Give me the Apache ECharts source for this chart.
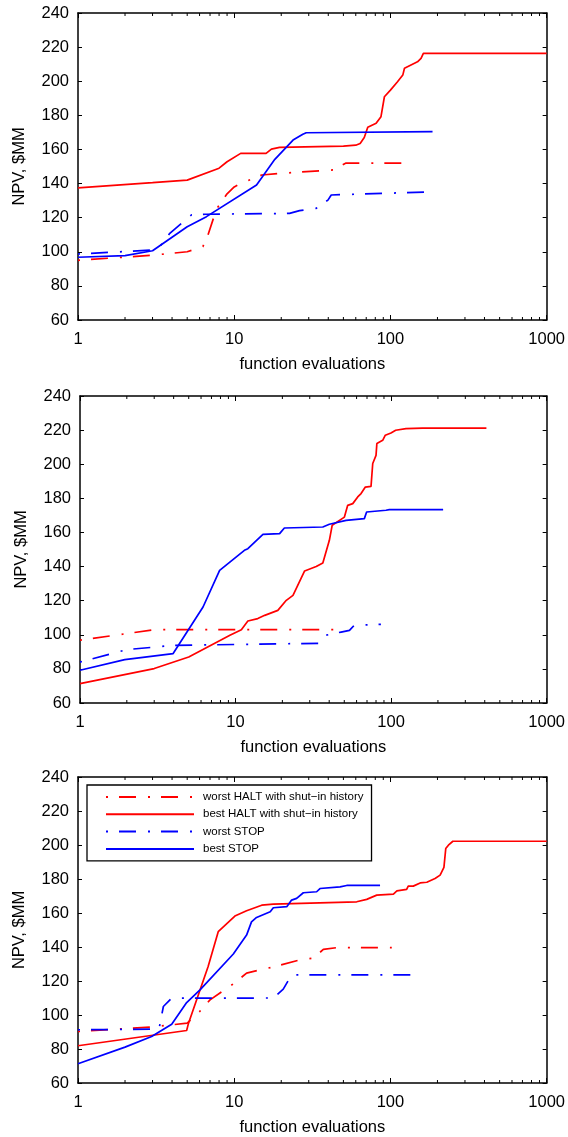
<!DOCTYPE html>
<html>
<head>
<meta charset="utf-8">
<script src="https://cdn.jsdelivr.net/npm/echarts@6/dist/echarts.min.js"></script>
<style>
    html, body { margin: 0; padding: 0; background: #fff; }
    #main { width: 568px; height: 1137px; }
</style>
</head>
<body>
<div id="main"></div>
<script>
// panel 1
var p1WorstHaltX = [1, 3, 5, 6.3, 6.8, 7.7, 9, 10, 11, 15, 20, 24, 43, 52, 120];
var p1WorstHaltY = [95, 98, 100, 103, 110, 125, 134, 138, 140, 145, 146, 146.5, 148, 152, 152];
var p1BestHaltX = [1, 3, 5, 8, 9, 11, 16, 17.3, 19.5, 50, 60, 64, 68, 71.6, 81, 87, 91.5, 100, 111, 120, 123, 149, 157, 162.5, 1000];
var p1BestHaltY = [137.5, 140.5, 142, 149, 152.8, 157.7, 157.7, 160.2, 161.2, 162, 162.5, 163.5, 167, 173, 175.3, 179.2, 190.9, 194.8, 199.7, 203.6, 207.6, 211.4, 213.4, 216.3, 216.3];
var p1WorstStopX = [1, 3, 3.4, 3.87, 5.33, 6.6, 22.6, 26.2, 33.5, 39.8, 41.8, 165];
var p1WorstStopY = [98.7, 101, 104, 110.8, 121.6, 122, 122.5, 124.1, 125.5, 130.3, 133.3, 135];
var p1BestStopX = [1, 2, 3, 5, 6.64, 13.9, 18.2, 23.8, 27.5, 28.9, 186];
var p1BestStopY = [96.8, 97.7, 100.6, 114.7, 120.6, 139.2, 154.2, 165.5, 168.9, 169.8, 170.4];

// panel 2
var p2WorstHaltX = [1, 3, 43];
var p2WorstHaltY = [96.8, 103, 103];
var p2BestHaltX = [1, 3, 5, 8, 9.2, 10.9, 12, 13.9, 15.4, 18.7, 21.2, 23.4, 27.8, 33, 36.4, 40.1, 41.8, 50.1, 52.6, 56.7, 61, 64.1, 68.3, 74.3, 76.2, 80, 81, 88.3, 91.8, 99.8, 107, 124.6, 159, 410];
var p2BestHaltY = [71.4, 80.2, 87, 96.8, 99.7, 103, 108.1, 109.5, 111.4, 114.3, 120.2, 123.1, 137.4, 140, 142.1, 155.4, 164.2, 169, 175.9, 176.9, 180.8, 182.8, 186.6, 187, 200.4, 205.2, 212.1, 214, 217, 218.3, 219.9, 220.9, 221.2, 221.2];
var p2WorstStopX = [1, 2, 4, 34, 37, 47.7, 54, 58, 86];
var p2WorstStopY = [84, 91.3, 93.8, 95, 99.5, 101.6, 102.6, 105.6, 106.1];
var p2BestStopX = [1, 1.94, 3.97, 6.18, 7.9, 11.4, 12, 15, 19.2, 20.6, 36.4, 40.1, 51.4, 67.3, 69.6, 92.7, 97.4, 216];
var p2BestStopY = [79.2, 85.4, 89, 116.3, 137.8, 149.5, 150.5, 158.9, 159.3, 162.6, 163.2, 164.8, 167.1, 168.1, 172, 173, 173.4, 173.4];

// panel 3
var p3WorstHaltX = [1, 3, 5, 6, 7, 10, 12, 14, 18, 26.3, 32.1, 37.2, 45.3, 102];
var p3WorstHaltY = [90.3, 93, 95.2, 102, 108.9, 118.7, 124.6, 126.1, 128.4, 132.4, 133.4, 138.6, 139.6, 139.6];
var p3BestHaltX = [1, 4.96, 5.1, 6.8, 7.9, 10.1, 12, 15, 17.8, 60.8, 70.5, 81.7, 104.5, 110, 127, 130, 140, 155, 171, 193, 208, 220, 226, 235, 251, 1000];
var p3BestHaltY = [81.9, 90.9, 95.2, 128.4, 149, 158.2, 161.3, 164.6, 165.2, 166.6, 168, 170.5, 171.1, 173, 173.9, 175.8, 175.8, 177.7, 178.1, 180.3, 182.3, 186.8, 197.9, 199.9, 202.2, 202.2];
var p3WorstStopX = [1, 3.3, 3.52, 3.98, 17.8, 20.6, 23.3, 140];
var p3WorstStopY = [91.3, 91.7, 105, 109.9, 110, 115.2, 123.6, 123.6];
var p3BestStopX = [1, 2, 2.96, 3.98, 4.96, 6.04, 9.87, 12, 12.9, 13.9, 17, 17.8, 21.7, 23.3, 25.1, 27.7, 33.7, 35.4, 47.6, 52.5, 85.8];
var p3BestStopY = [71.3, 81.1, 87.4, 94.6, 107.3, 114.8, 135.9, 147, 154.8, 157.4, 160.7, 163.1, 163.7, 167.6, 168.6, 171.9, 172.5, 174.4, 175.4, 176.2, 176.2];

var seriesNames = ['worst HALT with shut\u2212in history', 'best HALT with shut\u2212in history', 'worst STOP', 'best STOP'];
var minorTicks = [2, 3, 4, 5, 6, 7, 8, 9, 20, 30, 40, 50, 60, 70, 80, 90, 200, 300, 400, 500, 600, 700, 800, 900];

var font = 'Liberation Sans, Arial, sans-serif';
var dashDot = [2, 11, 17, 12];

var panels = [
    [[p1WorstHaltX, p1WorstHaltY], [p1BestHaltX, p1BestHaltY], [p1WorstStopX, p1WorstStopY], [p1BestStopX, p1BestStopY]],
    [[p2WorstHaltX, p2WorstHaltY], [p2BestHaltX, p2BestHaltY], [p2WorstStopX, p2WorstStopY], [p2BestStopX, p2BestStopY]],
    [[p3WorstHaltX, p3WorstHaltY], [p3BestHaltX, p3BestHaltY], [p3WorstStopX, p3WorstStopY], [p3BestStopX, p3BestStopY]]
];
var grids = [
    { left: 78, top: 13, width: 470, height: 307 },
    { left: 80, top: 396, width: 468, height: 307 },
    { left: 78, top: 777, width: 469, height: 306 }
];
var colors = ['#ff0000', '#ff0000', '#0000ff', '#0000ff'];
var types = [dashDot, 'solid', dashDot, 'solid'];

function zip(xs, ys) {
    var out = [];
    for (var i = 0; i < xs.length; i++) out.push([xs[i], ys[i]]);
    return out;
}

var xAxes = [], yAxes = [], series = [];
var axisLine = { show: true, onZero: false, lineStyle: { color: '#000', width: 1.5 } };

grids.forEach(function(g, gi) {
    xAxes.push({
        type: 'log', logBase: 10, min: 1, max: 1000, gridIndex: gi, position: 'bottom',
        name: 'function evaluations', nameLocation: 'middle', nameGap: 36,
        nameTextStyle: { color: '#000', fontSize: 16.5, fontFamily: font },
        axisLine: axisLine,
        axisTick: { inside: true, length: 5, lineStyle: { color: '#000', width: 1 } },
        axisLabel: {
            color: '#000', fontSize: 16.5, fontFamily: font, margin: 11,
            formatter: function(v) { return String(Math.round(v)); }
        },
        splitLine: { show: false }
    });
    xAxes.push({
        type: 'log', logBase: 10, min: 1, max: 1000, gridIndex: gi, position: 'top',
        axisLine: axisLine,
        axisTick: { inside: true, length: 5, lineStyle: { color: '#000', width: 1 } },
        axisLabel: { show: false },
        splitLine: { show: false }
    });
    yAxes.push({
        type: 'value', min: 60, max: 240, interval: 20, gridIndex: gi, position: 'left',
        name: 'NPV, $MM', nameLocation: 'middle', nameGap: 50,
        nameTextStyle: { color: '#000', fontSize: 16.5, fontFamily: font },
        axisLine: axisLine,
        axisTick: { inside: true, length: 4, lineStyle: { color: '#000', width: 1 } },
        axisLabel: { color: '#000', fontSize: 16.5, fontFamily: font, margin: 9 },
        splitLine: { show: false }
    });
    yAxes.push({
        type: 'value', min: 60, max: 240, interval: 20, gridIndex: gi, position: 'right',
        axisLine: axisLine,
        axisTick: { inside: true, length: 4, lineStyle: { color: '#000', width: 1 } },
        axisLabel: { show: false },
        splitLine: { show: false }
    });

    panels[gi].forEach(function(s, si) {
        series.push({
            name: seriesNames[si],
            type: 'line',
            xAxisIndex: gi * 2,
            yAxisIndex: gi * 2,
            data: zip(s[0], s[1]),
            symbol: 'none',
            silent: true,
            animation: false,
            lineStyle: { color: colors[si], width: 1.7, type: types[si] },
            itemStyle: { color: colors[si] },
            z: 3
        });
    });

    // minor log ticks on bottom and top edges
    series.push({
        type: 'custom',
        xAxisIndex: gi * 2,
        yAxisIndex: gi * 2,
        silent: true,
        animation: false,
        data: minorTicks.map(function(v) { return [v, 60]; }),
        renderItem: function(params, api) {
            var b = api.coord([api.value(0), 60]);
            var t = api.coord([api.value(0), 240]);
            return {
                type: 'group',
                children: [
                    { type: 'line', shape: { x1: b[0], y1: b[1], x2: b[0], y2: b[1] - 3 }, style: { stroke: '#000', lineWidth: 1 } },
                    { type: 'line', shape: { x1: t[0], y1: t[1], x2: t[0], y2: t[1] + 3 }, style: { stroke: '#000', lineWidth: 1 } }
                ]
            };
        }
    });
});

var myChart = echarts.init(document.getElementById('main'), null, { renderer: 'canvas' });
var option = {
    animation: false,
    backgroundColor: '#fff',
    grid: grids,
    xAxis: xAxes,
    yAxis: yAxes,
    legend: {
        data: seriesNames,
        orient: 'vertical',
        left: 87,
        top: 785,
        padding: [6, 8, 6, 18],
        itemWidth: 88,
        itemHeight: 14,
        itemGap: 5.3,
        borderColor: '#000',
        borderWidth: 1.3,
        backgroundColor: '#fff',
        selectedMode: false,
        itemStyle: { opacity: 0 },
        textStyle: { color: '#000', fontSize: 11.5, fontFamily: font, padding: [0, 0, 0, 4] }
    },
    series: series
};
myChart.setOption(option);
</script>
</body>
</html>
